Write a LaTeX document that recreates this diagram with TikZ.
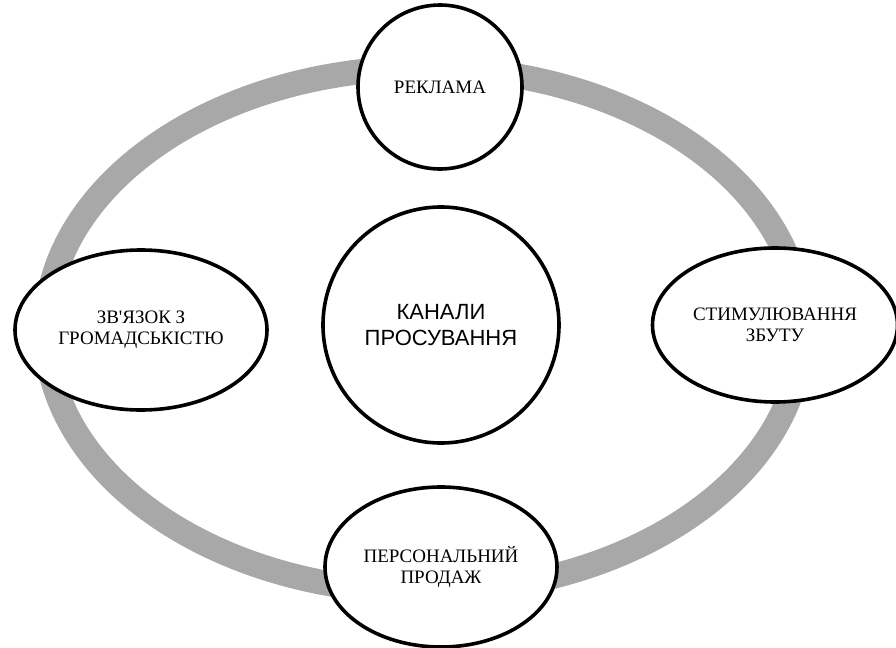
\documentclass[tikz,border=0pt]{standalone}
\usepackage{fontspec}
\setmainfont{Liberation Serif}
\newfontfamily\hubfont{Liberation Sans}
\usepackage{xcolor}
\usepackage{tikz}
\usetikzlibrary{shapes.geometric}

\definecolor{ringgray}{HTML}{A8A8A8}

\begin{document}
\begin{tikzpicture}[
    x=0.5pt, y=-0.5pt,
    % Channels
    channel/.style={
        ellipse, draw=black, fill=white, line width=1.8pt,
        inner sep=0pt, align=center,
        font=\fontsize{9.5}{10.5}\selectfont
    },
    hub/.style={
        circle, draw=black, fill=white, line width=1.8pt,
        minimum size=118pt, inner sep=0pt, align=center,
        font=\hubfont\fontsize{11}{13}\selectfont
    },
    % Ring
    ring/.style={draw=ringgray, line width=12.5pt}
]

    % --- CANVAS ---
    \fill[white] (0,0) rectangle (896,648);
    \useasboundingbox (0,0) rectangle (896,648);

    % --- RING ---
    \draw[ring] (424,330) ellipse [x radius=378, y radius=262];

    % --- CENTRE ---
    \node[hub] (kanaly) at (441,325) {КАНАЛИ\\ПРОСУВАННЯ};

    % --- CHANNELS ---
    \node[channel, circle, minimum size=82pt] (reklama) at (440,87) {РЕКЛАМА};
    \node[channel, minimum width=126pt, minimum height=80pt] (zvyazok)
        at (141,330) {ЗВ\textquotesingle ЯЗОК З\\ГРОМАДСЬКІСТЮ};
    \node[channel, minimum width=122.5pt, minimum height=77pt] (stymul)
        at (775,325) {СТИМУЛЮВАННЯ\\ЗБУТУ};
    \node[channel, minimum width=116pt, minimum height=80pt] (prodazh)
        at (441,567) {ПЕРСОНАЛЬНИЙ\\ПРОДАЖ};

\end{tikzpicture}
\end{document}
